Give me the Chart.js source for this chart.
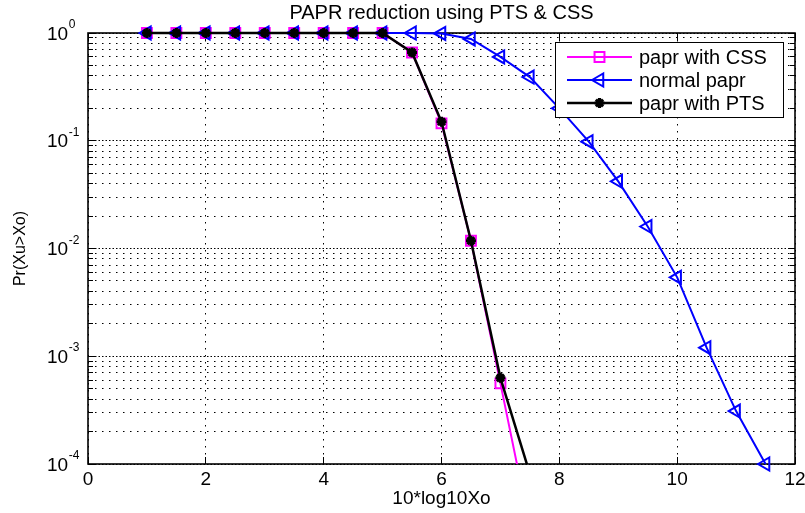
<!DOCTYPE html>
<html><head><meta charset="utf-8">
<script src="https://cdn.jsdelivr.net/npm/chart.js@4.4.1/dist/chart.umd.min.js"></script>
<style>html,body{margin:0;padding:0;background:#fff;}</style>
</head><body>
<canvas id="c" width="805" height="513"></canvas>
<script>
// ---- data ----
const xValues      = [1, 1.5, 2, 2.5, 3, 3.5, 4, 4.5, 5, 5.5, 6, 6.5, 7, 7.5, 8, 8.5, 9, 9.5, 10, 10.5, 11, 11.5];
const cssValues    = [1, 1, 1, 1, 1, 1, 1, 1, 1, 0.66, 0.145, 0.0118, 5.6e-4, 2.6e-5, null, null, null, null, null, null, null, null];
const normalValues = [1, 1, 1, 1, 1, 1, 1, 1, 1, 1, 0.99, 0.88, 0.60, 0.39, 0.20, 0.098, 0.042, 0.016, 0.0054, 0.0012, 3.1e-4, 1.0e-4];
const ptsValues    = [1, 1, 1, 1, 1, 1, 1, 1, 1, 0.66, 0.15, 0.0118, 6.3e-4, 8.1e-5, null, null, null, null, null, null, null, null];
const xTicks = [0, 2, 4, 6, 8, 10, 12];
const yExponents = [0, -1, -2, -3, -4];
const seriesLabels = ['papr with CSS', 'normal papr', 'papr with PTS'];
const titleText = 'PAPR reduction using PTS & CSS';
const xTitle = '10*log10Xo';
const yTitle = 'Pr(Xu>Xo)';

const FONT = "'Liberation Sans', Arial, Helvetica, sans-serif";
const toPts = vals => xValues.map((x, i) => ({x: x, y: vals[i]})).filter(p => p.y !== null);

const decor = {
  id: 'decor',
  beforeDatasetsDraw(chart) {
    const {ctx, chartArea: a, scales: {x, y}} = chart;
    ctx.save();
    // denser decade grid lines (overlay)
    ctx.strokeStyle = '#000'; ctx.lineWidth = 1;
    ctx.setLineDash([1.5, 5.5]); ctx.lineDashOffset = 3.5;
    yExponents.forEach(e => {
      const py = Math.floor(y.getPixelForValue(Math.pow(10, e))) + 0.5;
      ctx.beginPath(); ctx.moveTo(a.left, py); ctx.lineTo(a.right, py); ctx.stroke();
    });
    ctx.setLineDash([]);
    // frame
    ctx.lineWidth = 1.6;
    ctx.strokeRect(a.left, a.top, a.right - a.left, a.bottom - a.top);
    // inward ticks
    ctx.lineWidth = 1;
    xTicks.forEach(v => {
      const px = Math.floor(x.getPixelForValue(v)) + 0.5;
      ctx.beginPath();
      ctx.moveTo(px, a.bottom); ctx.lineTo(px, a.bottom - 7);
      ctx.moveTo(px, a.top); ctx.lineTo(px, a.top + 7);
      ctx.stroke();
    });
    y.ticks.forEach(t => {
      const py = Math.floor(y.getPixelForValue(t.value)) + 0.5;
      const len = t.major ? 7 : 5;
      ctx.beginPath();
      ctx.moveTo(a.left, py); ctx.lineTo(a.left + len, py);
      ctx.moveTo(a.right, py); ctx.lineTo(a.right - len, py);
      ctx.stroke();
    });
    ctx.restore();
  },
  afterDraw(chart) {
    const {ctx, chartArea: a, scales: {y}} = chart;
    ctx.save();
    ctx.fillStyle = '#000';
    // y tick labels 10^e
    yExponents.forEach(e => {
      const py = y.getPixelForValue(Math.pow(10, e));
      ctx.font = '19px ' + FONT;
      ctx.textAlign = 'left'; ctx.textBaseline = 'alphabetic';
      ctx.fillText('10', 47, py + 6.5);
      const w = ctx.measureText('10').width;
      ctx.font = '12px ' + FONT;
      ctx.fillText(String(e), 47 + w + 0.5, py - 5);
    });
    // x title
    ctx.font = '19px ' + FONT;
    ctx.textAlign = 'center'; ctx.textBaseline = 'alphabetic';
    ctx.fillText(xTitle, (a.left + a.right) / 2, 504);
    // y title
    ctx.save();
    ctx.translate(21, (a.top + a.bottom) / 2);
    ctx.rotate(-Math.PI / 2);
    ctx.font = '16px ' + FONT;
    ctx.textAlign = 'center'; ctx.textBaseline = 'middle';
    ctx.fillText(yTitle, 0, 0);
    ctx.restore();
    // legend
    const lw = 228, lh = 75;
    const lx = a.right - 12 - lw, ly = a.top + 9;
    ctx.fillStyle = '#fff';
    ctx.fillRect(lx, ly, lw, lh);
    ctx.strokeStyle = '#000'; ctx.lineWidth = 1;
    ctx.strokeRect(lx + 0.5, ly + 0.5, lw, lh);
    chart.data.datasets.forEach((ds, i) => {
      const ey = ly + 15 + i * 23;
      ctx.strokeStyle = ds.borderColor; ctx.lineWidth = ds.borderWidth;
      ctx.beginPath(); ctx.moveTo(lx + 12, ey); ctx.lineTo(lx + 77, ey); ctx.stroke();
      ctx.fillStyle = ds.pointBackgroundColor;
      ctx.strokeStyle = ds.pointBorderColor;
      ctx.lineWidth = ds.pointBorderWidth;
      Chart.helpers.drawPoint(ctx, {pointStyle: ds.pointStyle, rotation: ds.pointRotation || 0, radius: ds.pointRadius, borderWidth: ds.pointBorderWidth}, lx + 44.5, ey);
      ctx.fillStyle = '#000';
      ctx.font = '20px ' + FONT;
      ctx.textAlign = 'left'; ctx.textBaseline = 'alphabetic';
      ctx.fillText(ds.label, lx + 84, ey + 7);
    });
    ctx.restore();
  }
};

new Chart(document.getElementById('c'), {
  type: 'line',
  data: {
    datasets: [
      {label: seriesLabels[0], data: toPts(cssValues), borderColor: '#ff00ff', backgroundColor: 'rgba(0,0,0,0)',
       borderWidth: 2, pointStyle: 'rect', pointRadius: 7, pointBorderWidth: 2, pointBorderColor: '#ff00ff',
       pointBackgroundColor: 'rgba(0,0,0,0)', order: 3, tension: 0,
       clip: {left: false, top: false, right: false, bottom: 0}},
      {label: seriesLabels[1], data: toPts(normalValues), borderColor: '#0000ff', backgroundColor: 'rgba(0,0,0,0)',
       borderWidth: 2, pointStyle: 'triangle', pointRotation: -90, pointRadius: 7.5, pointBorderWidth: 2,
       pointBorderColor: '#0000ff', pointBackgroundColor: 'rgba(0,0,0,0)', order: 2, tension: 0, clip: false},
      {label: seriesLabels[2], data: toPts(ptsValues), borderColor: '#000000', backgroundColor: 'rgba(0,0,0,0)',
       borderWidth: 2.5, pointStyle: 'star', pointRadius: 5, pointBorderWidth: 3, pointBorderColor: '#000000',
       pointBackgroundColor: '#000000', order: 1, tension: 0,
       clip: {left: false, top: false, right: false, bottom: 0}}
    ]
  },
  options: {
    responsive: false, animation: false, devicePixelRatio: 1,
    layout: {padding: {left: 0, right: 10, top: 0, bottom: 0}},
    plugins: {
      legend: {display: false}, tooltip: {enabled: false},
      title: {display: true, fullSize: false, text: titleText, color: '#000',
              font: {size: 20, weight: 'normal', family: FONT, lineHeight: 1.2},
              padding: {top: 1.5, bottom: 7.5}}
    },
    scales: {
      x: {
        type: 'linear', min: 0, max: 12,
        afterBuildTicks: s => { s.ticks = xTicks.map(v => ({value: v})); },
        ticks: {color: '#000', font: {size: 19, family: FONT}, padding: 4, maxRotation: 0, autoSkip: false},
        grid: {color: '#000', lineWidth: 1, drawTicks: false},
        border: {display: false, dash: [1.5, 5.5]},
        afterFit: s => { s.height = 49; s.paddingLeft = 0; s.paddingRight = 0; }
      },
      y: {
        type: 'logarithmic', min: 1e-4, max: 1,
        afterBuildTicks: s => {
          const t = [];
          for (let e = -4; e <= 0; e++) {
            for (let d = 1; d <= 9; d++) {
              const v = d * Math.pow(10, e);
              if (v <= 1.0000001) t.push({value: v, major: d === 1});
            }
          }
          s.ticks = t;
        },
        ticks: {display: false},
        grid: {color: '#000', lineWidth: 1, drawTicks: false},
        border: {display: false, dash: [1.5, 5.5]},
        afterFit: s => { s.width = 88; s.paddingTop = 0; s.paddingBottom = 0; }
      }
    }
  },
  plugins: [decor]
});
</script>
</body></html>
